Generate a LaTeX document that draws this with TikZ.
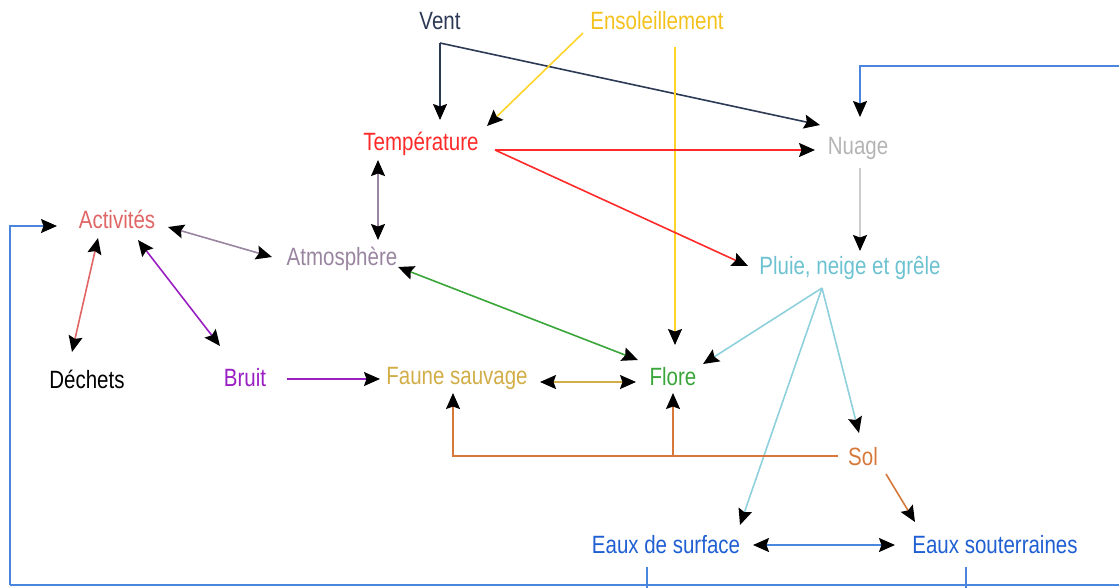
\documentclass[tikz,border=0pt]{standalone}
\usepackage{fontspec}
\setmainfont{Liberation Sans}[FakeStretch=0.82]
\usetikzlibrary{arrows.meta}
\definecolor{cvent}{HTML}{2D3A55}
\definecolor{cens}{HTML}{F4C21C}
\definecolor{censl}{HTML}{FFD42A}
\definecolor{ctemp}{HTML}{FF2A2A}
\definecolor{cnuage}{HTML}{B4B4B4}
\definecolor{cnuagel}{HTML}{CCCCCC}
\definecolor{cact}{HTML}{E06666}
\definecolor{catm}{HTML}{9A85A0}
\definecolor{cpluie}{HTML}{6CC2D0}
\definecolor{cpluiel}{HTML}{8ED0DC}
\definecolor{cbruit}{HTML}{9A1FC2}
\definecolor{cfaune}{HTML}{D2AE48}
\definecolor{cflore}{HTML}{3AA63A}
\definecolor{csol}{HTML}{D5783A}
\definecolor{ceaux}{HTML}{1F5FD2}
\definecolor{cbleu}{HTML}{4A86E0}
\tikzset{
  lbl/.style={inner sep=0pt, font=\fontsize{25}{30}\selectfont},
  conn/.style={line width=1.6pt},
  tip/.style={-{Stealth[length=16pt,width=14pt,inset=2.5pt,color=black]}},
  tips/.style={{Stealth[length=16pt,width=14pt,inset=2.5pt,color=black]}-{Stealth[length=16pt,width=14pt,inset=2.5pt,color=black]}}
}
\begin{document}
\begin{tikzpicture}[x=1pt,y=-1pt]
\useasboundingbox (0,0) rectangle (1119,587);
% nodes
\node[lbl,text=cvent] (vent) at (440,21) {Vent};
\node[lbl,text=cens] (ens) at (657,21) {Ensoleillement};
\node[lbl,text=ctemp] (temp) at (421,144) {Température};
\node[lbl,text=cnuage] (nuage) at (858,148) {Nuage};
\node[lbl,text=cact] (act) at (117,219) {Activités};
\node[lbl,text=catm] (atm) at (342,259) {Atmosphère};
\node[lbl,text=cpluie] (pluie) at (850,268) {Pluie, neige et grêle};
\node[lbl,text=black] (dech) at (87,379) {Déchets};
\node[lbl,text=cbruit] (bruit) at (245,378) {Bruit};
\node[lbl,text=cfaune] (faune) at (457,378) {Faune sauvage};
\node[lbl,text=cflore] (flore) at (673,377) {Flore};
\node[lbl,text=csol] (sol) at (863,457) {Sol};
\node[lbl,text=ceaux] (eds) at (666,545) {Eaux de surface};
\node[lbl,text=ceaux] (eso) at (995,545) {Eaux souterraines};
\coordinate (tr) at (1119,66);
\coordinate (bl) at (10,585);
\coordinate (br) at (1119,585);
% Vent
\coordinate (vc) at ([shift={(0,22)}]vent.center);
\draw[conn,cvent,tip] (vc) -- ([shift={(19,-24)}]temp.center);
\draw[conn,cvent,tip] (vc) -- ([shift={(-38,-23)}]nuage.center);
% Ensoleillement
\draw[conn,censl,tip] ([shift={(-74,12)}]ens.center) -- ([shift={(66,-18)}]temp.center);
\draw[conn,censl,tip] ([shift={(18,26)}]ens.center) -- ([shift={(2,-32)}]flore.center);
% Temperature
\coordinate (tc) at ([shift={(74,6)}]temp.center);
\draw[conn,ctemp,tip] (tc) -- ([shift={(-43,2)}]nuage.center);
\draw[conn,ctemp,tip] (tc) -- ([shift={(-102,-2)}]pluie.center);
\draw[conn,catm,tips] ([shift={(-43,16)}]temp.center) -- ([shift={(36,-19)}]atm.center);
% Nuage
\draw[conn,cnuagel,tip] ([shift={(2,20)}]nuage.center) -- ([shift={(10,-17)}]pluie.center);
\draw[conn,cbleu,tip] (tr) -| ([shift={(2,-31)}]nuage.center);
% Activites
\draw[conn,catm,tips] ([shift={(51,8)}]act.center) -- ([shift={(-70,-2)}]atm.center);
\draw[conn,cact,tips] ([shift={(-19,19)}]act.center) -- ([shift={(-15,-27)}]dech.center);
\draw[conn,cbruit,tips] ([shift={(21,21)}]act.center) -- ([shift={(-25,-32)}]bruit.center);
\draw[conn,cbruit,tip] ([shift={(42,1)}]bruit.center) -- ([shift={(-77,1)}]faune.center);
% Atmosphere - Flore
\draw[conn,cflore,tips] ([shift={(56,8)}]atm.center) -- ([shift={(-35,-17)}]flore.center);
\draw[conn,cfaune,tips] ([shift={(83,4)}]faune.center) -- ([shift={(-37,5)}]flore.center);
% Pluie
\coordinate (pc) at ([shift={(-28,20)}]pluie.center);
\draw[conn,cpluiel,tip] (pc) -- ([shift={(30,-13)}]flore.center);
\draw[conn,cpluiel,tip] (pc) -- ([shift={(-4,-24)}]sol.center);
\draw[conn,cpluiel,tip] (pc) -- ([shift={(74,-20)}]eds.center);
% Sol
\coordinate (sc) at ([shift={(-25,-1)}]sol.center);
\draw[conn,csol,tip] (sc) -| ([shift={(-4,15)}]faune.center);
\draw[conn,csol,tip] (sc -| flore.center) -- ([shift={(0,16)}]flore.center);
\draw[conn,csol,tip] ([shift={(23,17)}]sol.center) -- ([shift={(-80,-23)}]eso.center);
% Eaux
\draw[conn,cbleu,tips] ([shift={(87,0)}]eds.center) -- ([shift={(-100,0)}]eso.center);
\draw[conn,cbleu] ([shift={(-19,22)}]eds.center) -- ([shift={(-19,22)}]eds.center |- bl);
\draw[conn,cbleu] ([shift={(-29,22)}]eso.center) -- ([shift={(-29,22)}]eso.center |- bl);
\draw[conn,cbleu] (br) -- (bl);
\draw[conn,cbleu,tip] (bl) |- ([shift={(-60,7)}]act.center);
\end{tikzpicture}
\end{document}
